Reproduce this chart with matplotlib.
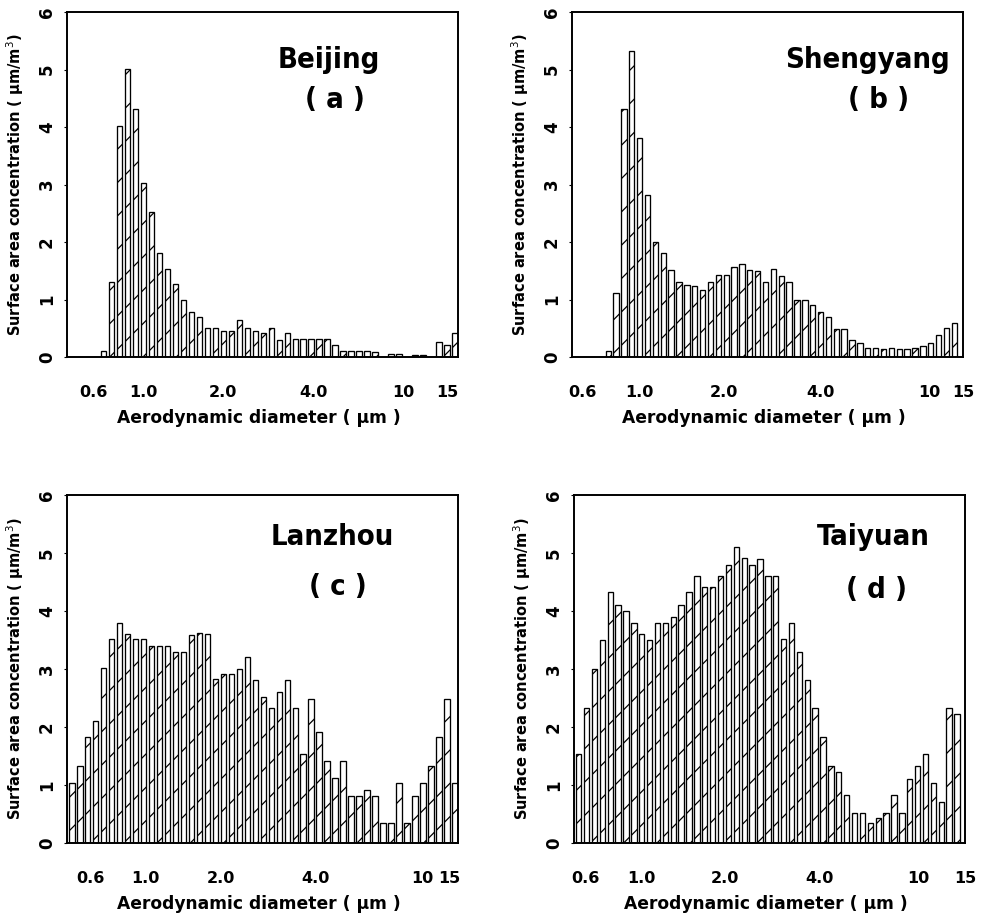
"""
Surface area size distributions (APS) for four cities: Beijing, Shengyang,
Lanzhou and Taiyuan. Hatched bar histograms, one panel per city -> out.png
"""

import matplotlib

matplotlib.use("Agg")
import matplotlib.pyplot as plt
import numpy as np

# --------------------------------------------------------------------------- #
# Data (surface area concentration, um/m^3, one value per size channel)
# --------------------------------------------------------------------------- #
SIZE_LABELS = ["0.6", "1.0", "2.0", "4.0", "10", "15"]

beijing = [
    0.0, 0.0, 0.0, 0.0, 0.11, 1.31, 4.02, 5.01, 4.32, 3.03,
    2.52, 1.81, 1.53, 1.27, 1.00, 0.79, 0.69, 0.50, 0.50, 0.46,
    0.46, 0.65, 0.50, 0.46, 0.41, 0.50, 0.30, 0.41, 0.31, 0.31,
    0.31, 0.31, 0.31, 0.21, 0.11, 0.11, 0.11, 0.10, 0.08, 0.0,
    0.05, 0.05, 0.0, 0.03, 0.03, 0.0, 0.26, 0.21, 0.42,
]
shengyang = [
    0.0, 0.0, 0.0, 0.0, 0.11, 1.11, 4.32, 5.32, 3.81, 2.82,
    2.00, 1.81, 1.52, 1.30, 1.26, 1.24, 1.17, 1.30, 1.42, 1.42,
    1.57, 1.61, 1.52, 1.49, 1.30, 1.53, 1.41, 1.30, 1.00, 1.00,
    0.90, 0.78, 0.69, 0.49, 0.49, 0.30, 0.25, 0.16, 0.16, 0.14,
    0.16, 0.14, 0.14, 0.16, 0.20, 0.24, 0.39, 0.50, 0.60,
]
lanzhou = [
    1.03, 1.32, 1.82, 2.11, 3.01, 3.51, 3.80, 3.60, 3.51, 3.51,
    3.40, 3.40, 3.40, 3.30, 3.30, 3.59, 3.63, 3.60, 2.82, 2.91,
    2.91, 3.00, 3.20, 2.81, 2.51, 2.32, 2.61, 2.81, 2.32, 1.53,
    2.49, 1.92, 1.42, 1.12, 1.42, 0.81, 0.81, 0.91, 0.81, 0.34,
    0.34, 1.03, 0.34, 0.81, 1.03, 1.32, 1.82, 2.49, 1.03,
]
taiyuan = [
    1.53, 2.32, 3.00, 3.50, 4.32, 4.11, 4.00, 3.80, 3.60, 3.50,
    3.80, 3.80, 3.90, 4.11, 4.32, 4.60, 4.42, 4.42, 4.60, 4.80,
    5.11, 4.91, 4.80, 4.90, 4.60, 4.60, 3.51, 3.80, 3.29, 2.81,
    2.32, 1.82, 1.32, 1.23, 0.82, 0.51, 0.51, 0.34, 0.43, 0.51,
    0.82, 0.51, 1.11, 1.32, 1.53, 1.03, 0.71, 2.32, 2.22,
]

CITIES = ["Beijing", "Shengyang", "Lanzhou", "Taiyuan"]
LETTERS = ["a", "b", "c", "d"]
SERIES = [beijing, shengyang, lanzhou, taiyuan]

# --------------------------------------------------------------------------- #
# Layout (figure fractions) and where each size label sits on the channel axis
# --------------------------------------------------------------------------- #
AX_RECTS = [
    [0.0682, 0.6111, 0.3977, 0.3758],
    [0.5819, 0.6111, 0.3977, 0.3758],
    [0.0682, 0.0817, 0.3977, 0.3790],
    [0.5839, 0.0817, 0.3977, 0.3790],
]
LABEL_POS = [
    [2.7, 9.0, 19.0, 30.3, 41.6, 47.1],
    [0.7, 8.0, 18.7, 31.0, 44.8, 49.1],
    [2.3, 9.2, 18.7, 30.6, 43.9, 47.3],
    [0.8, 8.0, 18.6, 30.6, 43.1, 49.0],
]
NAME_XY = [(0.67, 0.86), (0.757, 0.86), (0.678, 0.879), (0.765, 0.879)]
LETTER_XY = [(0.685, 0.745), (0.783, 0.745), (0.693, 0.736), (0.775, 0.727)]

TITLE_FONT = dict(family="DejaVu Sans", stretch="condensed", weight="bold")

plt.rcParams["hatch.linewidth"] = 0.9
plt.rcParams["hatch.color"] = "black"


def draw_panel(ax, values, city, letter, label_pos, name_xy, letter_xy):
    x = np.arange(len(values))
    ax.bar(x, values, width=0.68, color="white", edgecolor="black",
           linewidth=0.95, hatch="/")
    ax.set_xlim(-0.6, 48.4)
    ax.set_ylim(0, 6)

    ax.set_xticks(label_pos)
    ax.set_xticklabels(SIZE_LABELS, fontsize=11.5, fontweight="bold")
    ax.tick_params(axis="x", length=0, pad=20)
    ax.set_yticks(range(0, 7))
    ax.set_yticklabels([str(v) for v in range(0, 7)], fontsize=12,
                       fontweight="bold", rotation=90, va="center")
    ax.tick_params(axis="y", length=2, pad=6)
    for s in ax.spines.values():
        s.set_linewidth(1.4)

    ax.set_xlabel("Aerodynamic diameter ( \u03bcm )", fontsize=12.3,
                  fontweight="bold")
    ax.xaxis.set_label_coords(0.49, -0.15)
    ax.set_ylabel("Surface area concentration ( \u03bcm/m$^3$)", fontsize=10.5,
                  fontweight="bold")
    ax.yaxis.set_label_coords(-0.105, 0.5)

    ax.text(*name_xy, city, transform=ax.transAxes, ha="center",
            va="center", fontsize=21, **TITLE_FONT)
    ax.text(*letter_xy, f"( {letter} )", transform=ax.transAxes,
            ha="center", va="center", fontsize=21, **TITLE_FONT)


def main():
    fig = plt.figure(figsize=(9.83, 9.18), dpi=100)
    for i in range(4):
        ax = fig.add_axes(AX_RECTS[i])
        draw_panel(ax, SERIES[i], CITIES[i], LETTERS[i], LABEL_POS[i],
                   NAME_XY[i], LETTER_XY[i])
    fig.savefig("out.png", dpi=100)
    plt.close(fig)


if __name__ == "__main__":
    main()
